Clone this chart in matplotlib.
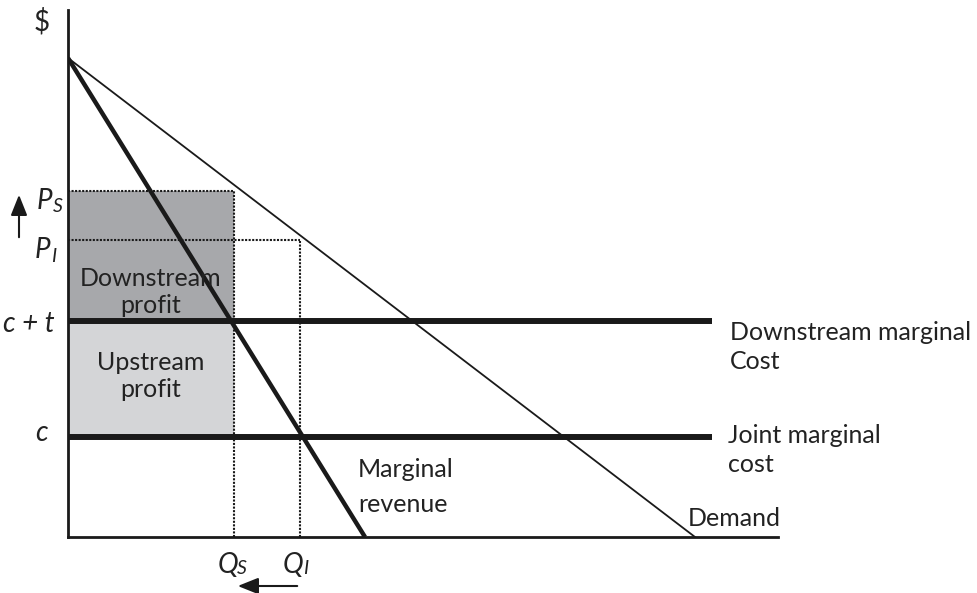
import matplotlib
matplotlib.use("Agg")
import matplotlib.pyplot as plt
from matplotlib.patches import Rectangle

# Model values (diagram units: quantity along x, price along y)
demand_intercept = 479      # price where demand meets the $ axis
demand_choke = 627          # quantity where demand meets the Q axis
mr_choke = 297              # quantity where marginal revenue reaches zero
cost_joint = 100            # c
cost_downstream = 216       # c + t
price_separate = 346        # P_S
price_integrated = 297      # P_I
qty_separate = 166          # Q_S
qty_integrated = 232        # Q_I
cost_line_end = 644

FONT = ["Lato", "DejaVu Sans"]
FS = 18

fig = plt.figure(figsize=(9.78, 5.93), dpi=100)
W, H = 978, 593
ox, oy = 68, 537
ax = fig.add_axes([ox / W, (H - oy) / H, 710 / W, 527 / H])
ax.set_xlim(0, 710)
ax.set_ylim(0, 527)
for s in ("top", "right"):
    ax.spines[s].set_visible(False)
for s in ("left", "bottom"):
    ax.spines[s].set_linewidth(2.0)
    ax.spines[s].set_color("#1a1a1a")
ax.set_xticks([])
ax.set_yticks([])

# Profit areas
ax.add_patch(Rectangle((0, cost_downstream), qty_separate, price_separate - cost_downstream,
                       facecolor="#a7a8ab", edgecolor="none", zorder=1))
ax.add_patch(Rectangle((0, cost_joint), qty_separate, cost_downstream - cost_joint,
                       facecolor="#d4d5d7", edgecolor="none", zorder=1))

# Dotted guides
dot = dict(color="#1a1a1a", lw=1.5, ls=(0, (1, 0.7)), zorder=2)
ax.plot([0, qty_separate], [price_separate, price_separate], **dot)
ax.plot([qty_separate, qty_separate], [0, price_separate], **dot)
ax.plot([0, qty_integrated], [price_integrated, price_integrated], **dot)
ax.plot([qty_integrated, qty_integrated], [0, price_integrated], **dot)

# Cost lines
ax.plot([0, cost_line_end], [cost_downstream, cost_downstream], color="#1a1a1a", lw=4.3,
        solid_capstyle="butt", zorder=3)
ax.plot([0, cost_line_end], [cost_joint, cost_joint], color="#1a1a1a", lw=4.3,
        solid_capstyle="butt", zorder=3)

# Demand and marginal revenue
ax.plot([0, demand_choke], [demand_intercept, 0], color="#1a1a1a", lw=1.3, zorder=4)
ax.plot([0, mr_choke], [demand_intercept, 0], color="#1a1a1a", lw=3.2,
        solid_capstyle="butt", zorder=4)

txt = dict(fontfamily=FONT, fontsize=FS, color="#222222", clip_on=False)
big = {**txt, "fontsize": FS + 2}
small = {**txt, "fontsize": FS - 4}

ax.text(-26, 515, "$", ha="center", va="center", **big)

# Price labels
ax.text(-31, 336, "P", ha="left", va="center", style="italic", **big)
ax.text(-15, 331, "S", ha="left", va="center", style="italic", **small)
ax.text(-33, 287, "P", ha="left", va="center", style="italic", **big)
ax.text(-17, 281, "I", ha="left", va="center", style="italic", **small)
ax.text(-13, cost_downstream - 3, "c + t", ha="right", va="center", style="italic", **big)
ax.text(-27, cost_joint + 4, "c", ha="center", va="center", style="italic", **big)

# Quantity labels
ax.text(qty_separate - 6, -28, "Q", ha="center", va="center", style="italic", **big)
ax.text(qty_separate + 8, -32, "S", ha="center", va="center", style="italic", **small)
ax.text(qty_integrated - 7, -28, "Q", ha="center", va="center", style="italic", **big)
ax.text(qty_integrated + 6, -32, "I", ha="center", va="center", style="italic", **small)

# Direction arrows
arrow = dict(arrowstyle="-|>,head_width=0.5,head_length=1.25", color="#1a1a1a", lw=1.5)
ax.annotate("", xy=(-49, 345), xytext=(-49, 297), annotation_clip=False, arrowprops=arrow)
ax.annotate("", xy=(qty_separate + 1, -49), xytext=(qty_integrated, -49),
            annotation_clip=False, arrowprops=arrow)

# Area and curve labels
ax.text(83, 245, "Downstream\nprofit", ha="center", va="center", linespacing=1.2, zorder=5, **txt)
ax.text(83, 161, "Upstream\nprofit", ha="center", va="center", linespacing=1.2, zorder=5, **txt)
ax.text(290, 50, "Marginal\nrevenue", ha="left", va="center", linespacing=1.65, **txt)
ax.text(662, 190, "Downstream marginal\nCost", ha="left", va="center", linespacing=1.35, **txt)
ax.text(660, 87, "Joint marginal\ncost", ha="left", va="center", linespacing=1.3, **txt)
ax.text(620, 19, "Demand", ha="left", va="center", **txt)

fig.savefig("out.png", dpi=100)
